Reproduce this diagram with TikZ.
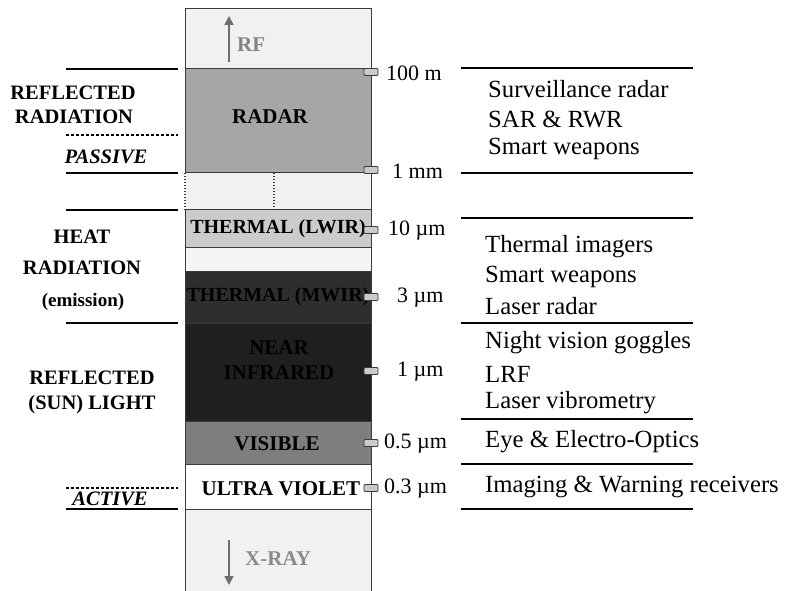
\documentclass[tikz,border=0pt]{standalone}
\usepackage{fontspec}
\setmainfont{Liberation Serif}
\usetikzlibrary{arrows.meta}
\definecolor{bglight}{HTML}{F1F1F1}
\definecolor{radarc}{HTML}{A6A6A6}
\definecolor{lwirc}{HTML}{CBCBCB}
\definecolor{gapc}{HTML}{F5F5F5}
\definecolor{mwirc}{HTML}{2E2E2E}
\definecolor{nirc}{HTML}{1F1F1F}
\definecolor{visc}{HTML}{7E7E7E}
\definecolor{arrc}{HTML}{6E6E6E}
\definecolor{edgec}{HTML}{3A3A3A}
\tikzset{
  bandtxt/.style={font=\fontsize{21}{24}\selectfont\bfseries, inner sep=0pt},
  lefttxt/.style={font=\fontsize{20.5}{24}\selectfont\bfseries, align=center, inner sep=0pt},
  ticktxt/.style={font=\fontsize{22}{24}\selectfont, anchor=west, inner sep=0pt},
  apptxt/.style={font=\fontsize{24.7}{30}\selectfont, anchor=west, inner sep=0pt},
  rule/.style={line width=1.6pt, black},
  druled/.style={line width=1.2pt, black, dash pattern=on 3pt off 2pt},
  sep/.style={line width=1pt, edgec},
  marker/.style={draw=edgec, fill=lwirc, line width=0.8pt, rounded corners=1pt, minimum width=14pt, minimum height=7pt, inner sep=0pt},
  greytxt/.style={font=\fontsize{21}{24}\selectfont\bfseries, text=arrc!85, inner sep=0pt}
}
\begin{document}
\begin{tikzpicture}[x=1pt,y=-1pt]
\useasboundingbox (0,0) rectangle (785,591);
% column bands
\fill[bglight] (185,9) rectangle (371,69);
\fill[radarc] (185,69) rectangle (371,173);
\fill[bglight] (185,173) rectangle (371,210);
\fill[lwirc] (185,210) rectangle (371,247);
\fill[gapc] (185,247) rectangle (371,271);
\fill[mwirc] (185,271) rectangle (371,323);
\fill[nirc] (185,323) rectangle (371,421);
\fill[visc] (185,421) rectangle (371,464);
\fill[white] (185,464) rectangle (371,509);
\fill[bglight] (185,509) rectangle (371,591);
% column edges
\coordinate (tl) at (185,9); \coordinate (tr) at (371,9);
\coordinate (bl) at (185,591); \coordinate (br) at (371,591);
\coordinate (gl1) at (185,173); \coordinate (gl2) at (185,210);
\draw[sep] (gl1) -- (tl) -- (tr) -- (br);
\draw[sep] (gl2) -- (bl);
\draw[sep, dotted, line width=1.3pt] (gl1) -- (gl2);
\coordinate (dv1) at (274,173); \coordinate (dv2) at (274,210);
\draw[sep, dotted, line width=1.6pt] (dv1) -- (dv2);
\foreach \yy in {69,173,210,247,271,323,421,464,509}
  \draw[sep] (185,\yy) -- (371,\yy);
% arrows
\coordinate (rf1) at (229,62); \coordinate (rf2) at (229,16);
\draw[arrc, line width=1.6pt, -{Triangle[length=9pt,width=9pt]}] (rf1) -- (rf2);
\node[greytxt, anchor=west] (rf) at (237,45) {RF};
\coordinate (xr1) at (229,540); \coordinate (xr2) at (229,585);
\draw[arrc, line width=1.6pt, -{Triangle[length=9pt,width=9pt]}] (xr1) -- (xr2);
\node[greytxt, anchor=west, text=arrc!80] (xray) at (245,559) {X-RAY};
% band labels
\node[bandtxt] (radar) at (270,117) {RADAR};
\node[bandtxt, font=\fontsize{20}{24}\selectfont\bfseries] (lwir) at (278,229) {THERMAL (LWIR)};
\node[bandtxt, font=\fontsize{20}{24}\selectfont\bfseries, text=black] (mwir) at (278,297) {THERMAL (MWIR)};
\node[bandtxt, text=black, align=center, font=\fontsize{21}{25}\selectfont\bfseries] (nir) at (279,360) {NEAR\\INFRARED};
\node[bandtxt] (vis) at (277,444) {VISIBLE};
\node[bandtxt] (uv) at (281,489) {ULTRA VIOLET};
% markers and ticks
\foreach \nm/\yy/\lab/\lx in {m1/72/100 m/386, m2/170/1 mm/392, m3/230/10 \textmu m/388, m4/297/3 \textmu m/397, m5/371/1 \textmu m/397, m6/443/0.5 \textmu m/384, m7/488/0.3 \textmu m/384}{
  \node[marker] (\nm) at (371,\yy) {};
  \node[ticktxt] (\nm l) at (\lx,\yy+1) {\lab};
}
% right rules
\foreach \yy in {68,173,218,323,419,464,509}
  \draw[rule] (461,\yy) -- (693,\yy);
% right texts
\node[apptxt] (a1) at (488,89) {Surveillance radar};
\node[apptxt] (a2) at (488,119) {SAR \& RWR};
\node[apptxt] (a3) at (488,149) {Smart weapons};
\node[apptxt] (a4) at (485,247) {Thermal imagers};
\node[apptxt] (a5) at (485,277) {Smart weapons};
\node[apptxt] (a6) at (485,306) {Laser radar};
\node[apptxt] (a7) at (485,343) {Night vision goggles};
\node[apptxt] (a8) at (485,374) {LRF};
\node[apptxt] (a9) at (485,403) {Laser vibrometry};
\node[apptxt] (a10) at (485,442) {Eye \& Electro-Optics};
\node[apptxt] (a11) at (485,487) {Imaging \& Warning receivers};
% left rules
\draw[rule] (66,69) -- (178,69);
\draw[druled] (66,135) -- (178,135);
\draw[rule] (66,173) -- (178,173);
\draw[rule] (66,210) -- (178,210);
\draw[rule] (66,323) -- (178,323);
\draw[druled] (66,488) -- (178,488);
\draw[rule] (66,509) -- (178,509);
% left texts
\node[lefttxt] (refl1) at (73,93) {REFLECTED};
\node[lefttxt] (refl2) at (74,117) {RADIATION};
\node[lefttxt, font=\fontsize{20.5}{24}\selectfont\bfseries\itshape] (pass) at (106,157) {PASSIVE};
\node[lefttxt] (heat1) at (82,237) {HEAT};
\node[lefttxt] (heat2) at (82,268) {RADIATION};
\node[lefttxt, font=\fontsize{19}{24}\selectfont\bfseries] (heat3) at (83,302) {(emission)};
\node[lefttxt] (sun1) at (92,378) {REFLECTED};
\node[lefttxt] (sun2) at (92,405) {(SUN) LIGHT};
\node[lefttxt, font=\fontsize{20.5}{24}\selectfont\bfseries\itshape] (act) at (110,499) {ACTIVE};
\end{tikzpicture}
\end{document}
